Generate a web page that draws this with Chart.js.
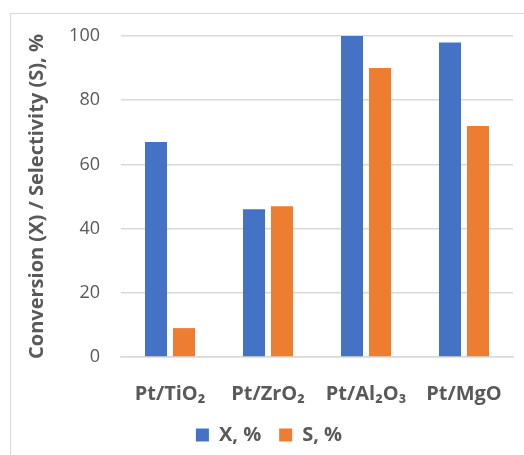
<!DOCTYPE html>
<html>
<head>
<meta charset="utf-8">
<script src="https://cdn.jsdelivr.net/npm/chart.js@4"></script>
<style>
  html, body { margin: 0; padding: 0; background: #fff; }
  #wrap { position: relative; width: 524px; height: 455px; }
  #frame { position: absolute; left: 10px; top: 13px; right: -2px; bottom: -2px;
           border-left: 1.5px solid #d9d9d9; border-top: 1.5px solid #d9d9d9; }
  canvas { position: absolute; left: 0; top: 0; }
</style>
</head>
<body>
<div id="wrap">
  <div id="frame"></div>
  <canvas id="chart" width="524" height="455"></canvas>
</div>
<script>
// catalysts on the x axis
const categories = ['Pt/TiO\u2082', 'Pt/ZrO\u2082', 'Pt/Al\u2082O\u2083', 'Pt/MgO'];
// conversion X and selectivity S
const conversion = [67, 46, 100, 98];
const selectivity = [9, 47, 90, 72];
const yTicks = [0, 20, 40, 60, 80, 100];

const grey = '#595959';
const fontFamily = '"Open Sans", sans-serif';

const ctx = document.getElementById('chart').getContext('2d');

new Chart(ctx, {
    type: 'bar',
    data: {
        labels: categories,
        datasets: [
            { label: 'X, %', data: conversion, backgroundColor: '#4472C4' },
            { label: 'S, %', data: selectivity, backgroundColor: '#ED7D31' }
        ]
    },
    options: {
        responsive: false,
        animation: false,
        categoryPercentage: 0.571,
        barPercentage: 0.786,
        layout: { padding: { left: 25, right: 11, top: 36, bottom: 0 } },
        scales: {
            x: {
                grid: { display: false },
                border: { color: '#d9d9d9', width: 1.5 },
                ticks: { color: grey, font: { family: fontFamily, size: 20, weight: 'bold' }, padding: 17 },
                afterFit: s => { s.height = 50; }
            },
            y: {
                min: 0,
                max: 100,
                afterBuildTicks: s => { s.ticks = yTicks.map(v => ({ value: v })); },
                grid: { color: '#d9d9d9', lineWidth: 1.5, drawTicks: false },
                border: { display: false },
                ticks: { color: grey, font: { family: fontFamily, size: 18 }, padding: 21 },
                title: {
                    display: true,
                    text: 'Conversion (X) / Selectivity (S), %',
                    color: grey,
                    font: { family: fontFamily, size: 20, weight: 'bold' },
                    padding: 0
                },
                afterFit: s => { s.width = 96; }
            }
        },
        plugins: {
            legend: {
                position: 'bottom',
                labels: {
                    color: grey,
                    font: { family: fontFamily, size: 20, weight: 'bold' },
                    boxWidth: 13,
                    boxHeight: 13,
                    padding: 18
                }
            },
            tooltip: { enabled: false }
        }
    }
});
</script>
</body>
</html>
